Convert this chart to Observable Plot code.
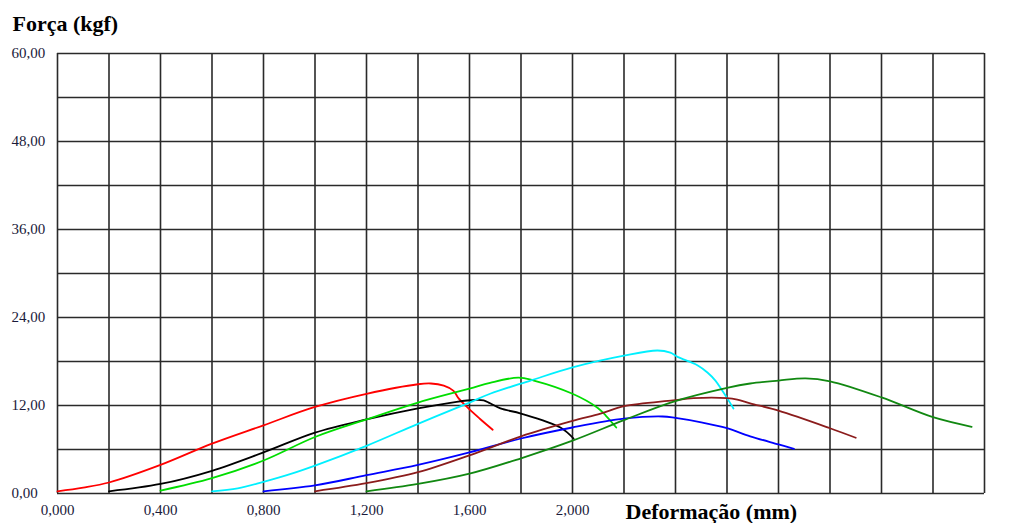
<!DOCTYPE html>
<html>
<head>
<meta charset="utf-8">
<script src="https://cdn.jsdelivr.net/npm/d3@7"></script>
<script src="https://cdn.jsdelivr.net/npm/@observablehq/plot@0.6"></script>
<style>
  html, body { margin: 0; padding: 0; background: #fff; }
  #chart { width: 1023px; height: 523px; overflow: hidden; }
</style>
</head>
<body>
<div id="chart"></div>
<script>
// Tick / grid values
const xTickLabels = [0, 0.4, 0.8, 1.2, 1.6, 2.0];
const yTickLabels = [0, 12, 24, 36, 48, 60];
const xGrid = d3.range(0, 3.6001, 0.2);
const yGrid = d3.range(0, 60.001, 6);

// Series: deformation (mm) and force (kgf)
const redX   = [0, 0.1, 0.2, 0.4, 0.6, 0.8, 1.0, 1.2, 1.4, 1.45, 1.50, 1.538, 1.557, 1.596, 1.64, 1.69];
const redY   = [0.3, 0.8, 1.5, 3.9, 6.8, 9.3, 11.8, 13.6, 14.9, 15.0, 14.7, 14.0, 13.0, 11.6, 10.2, 8.7];
const blackX = [0.2, 0.4, 0.6, 0.8, 1.0, 1.2, 1.4, 1.55, 1.62, 1.655, 1.68, 1.72, 1.80, 1.953, 2.004];
const blackY = [0.3, 1.3, 3.1, 5.6, 8.3, 10.1, 11.6, 12.5, 12.75, 12.7, 12.3, 11.6, 10.9, 9.0, 7.5];
const limeX  = [0.4, 0.6, 0.8, 1.0, 1.2, 1.4, 1.6, 1.68, 1.79, 1.85, 2.0, 2.097, 2.13, 2.17];
const limeY  = [0.4, 2.1, 4.5, 7.7, 10.1, 12.4, 14.3, 15.1, 15.8, 15.4, 13.6, 11.7, 10.6, 9.0];
const cyanX  = [0.6, 0.7, 0.8, 0.9, 1.0, 1.2, 1.4, 1.6, 1.68, 1.837, 2.0, 2.2, 2.33, 2.38, 2.41, 2.485, 2.524, 2.555, 2.582, 2.606, 2.625];
const cyanY  = [0.3, 0.7, 1.6, 2.6, 3.8, 6.5, 9.5, 12.4, 13.6, 15.4, 17.2, 18.8, 19.5, 19.2, 18.6, 17.5, 16.5, 15.4, 14.0, 12.7, 11.6];
const blueX  = [0.8, 1.0, 1.2, 1.4, 1.6, 1.8, 2.0, 2.2, 2.35, 2.4, 2.5, 2.6, 2.69, 2.80, 2.86];
const blueY  = [0.3, 1.1, 2.5, 3.9, 5.6, 7.5, 9.0, 10.2, 10.5, 10.3, 9.7, 8.9, 7.8, 6.7, 6.1];
const brownX = [1.0, 1.2, 1.4, 1.6, 1.8, 2.0, 2.109, 2.2, 2.39, 2.47, 2.6, 2.64, 2.69, 2.80, 3.0, 3.1];
const brownY = [0.3, 1.4, 2.9, 5.2, 7.8, 9.9, 10.9, 11.9, 12.7, 13.0, 13.0, 12.8, 12.3, 11.3, 8.9, 7.6];
const greenX = [1.2, 1.4, 1.6, 1.8, 2.0, 2.2, 2.39, 2.6, 2.69, 2.80, 2.905, 3.0, 3.2, 3.4, 3.55];
const greenY = [0.3, 1.3, 2.7, 4.8, 7.2, 10.0, 12.5, 14.4, 15.0, 15.4, 15.7, 15.3, 13.1, 10.4, 9.1];

const series = [
  {xs: redX, ys: redY, color: "#ff0000"},
  {xs: blackX, ys: blackY, color: "#000000"},
  {xs: limeX, ys: limeY, color: "#00dd00"},
  {xs: cyanX, ys: cyanY, color: "#00f0ff"},
  {xs: blueX, ys: blueY, color: "#0000ff"},
  {xs: brownX, ys: brownY, color: "#8b1c1c"},
  {xs: greenX, ys: greenY, color: "#118811"}
];

const fmtX = d => d3.format(".3f")(d).replace(".", ",");
const fmtY = d => d3.format(".2f")(d).replace(".", ",");
const labelColor = "#1a1a3a";

const lineMarks = series.map(s =>
  Plot.line(s.xs.map((x, i) => ({x, y: s.ys[i]})), {
    x: "x", y: "y", stroke: s.color, strokeWidth: 1.8, curve: "catmull-rom"
  })
);

const chart = Plot.plot({
  width: 1023,
  height: 523,
  marginLeft: 57,
  marginRight: 39,
  marginTop: 53,
  marginBottom: 30,
  style: {fontFamily: "'Liberation Serif', 'Times New Roman', serif", background: "#fff", overflow: "visible"},
  x: {domain: [0, 3.6], axis: null},
  y: {domain: [0, 60], axis: null},
  marks: [
    Plot.ruleX(xGrid, {stroke: "#2a2a2a", strokeWidth: 1.6}),
    Plot.ruleY(yGrid, {stroke: "#2a2a2a", strokeWidth: 1.6}),
    ...lineMarks,
    Plot.text(yTickLabels, {y: d => d, text: fmtY, frameAnchor: "left", dx: -46, textAnchor: "start", fontSize: 15, fill: labelColor}),
    Plot.text(xTickLabels, {x: d => d, text: fmtX, frameAnchor: "bottom", lineAnchor: "middle", dy: 17, fontSize: 15, fill: labelColor}),
    Plot.text(["Força (kgf)"], {frameAnchor: "top-left", lineAnchor: "middle", dx: -45, dy: -30, textAnchor: "start", fontSize: 22, fontWeight: "bold", fill: "#000"}),
    Plot.text(["Deformação (mm)"], {frameAnchor: "bottom-left", lineAnchor: "middle", dx: 568, dy: 18, textAnchor: "start", fontSize: 22, fontWeight: "bold", fill: "#000"})
  ]
});
document.getElementById("chart").appendChild(chart);
</script>
</body>
</html>
